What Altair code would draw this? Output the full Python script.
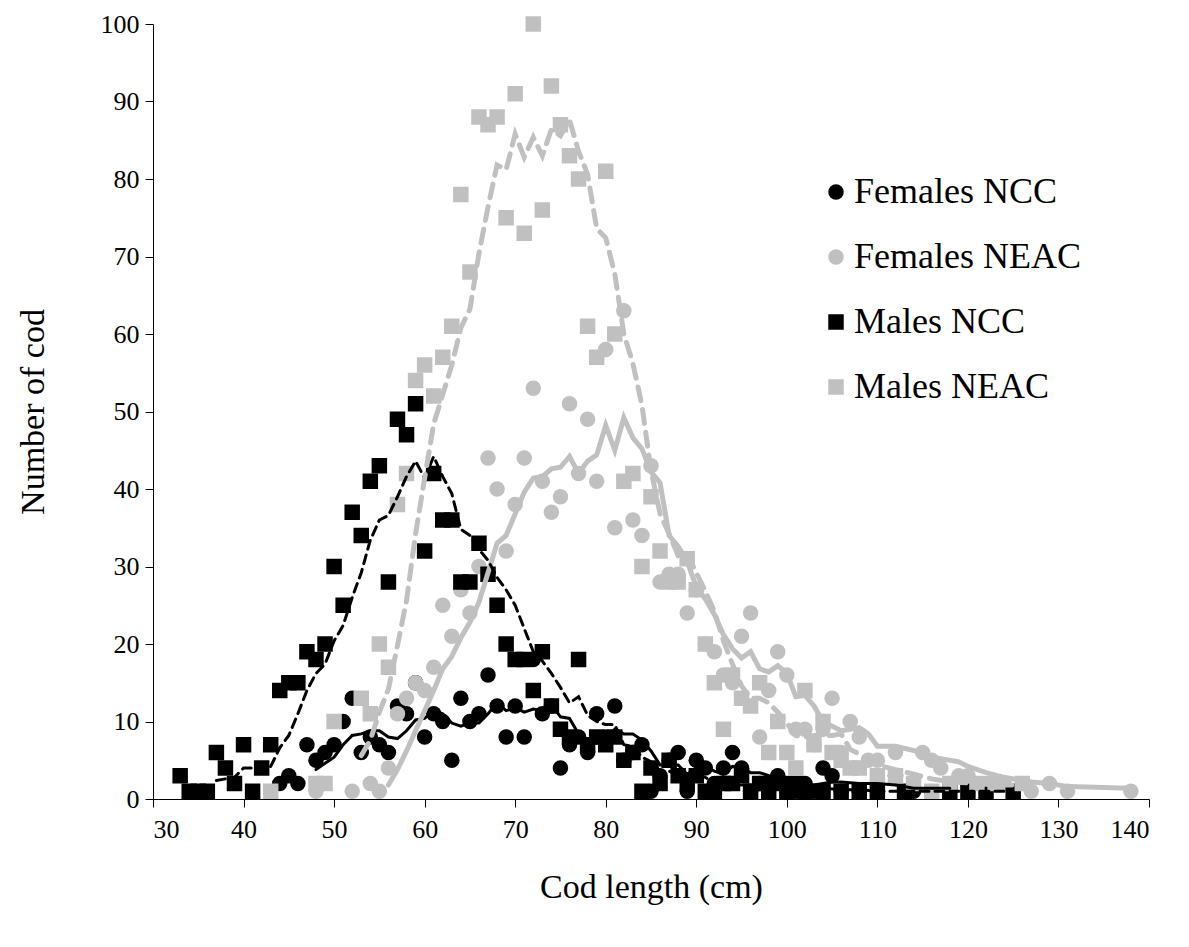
import altair as alt
import pandas as pd

# Females NCC (black circles)
fncc_x = [44, 45, 46, 47, 48, 49, 50, 51, 52, 53, 54, 55, 56, 57, 58, 59, 60, 61, 62, 63, 64, 65, 66, 67, 68, 69, 70, 71, 72, 73, 74, 75, 76, 77, 78, 79, 80, 81, 82, 83, 84, 85, 86, 87, 88, 89, 90, 91, 92, 93, 94, 95, 96, 97, 98, 99, 100, 101, 102, 103, 104, 105, 106, 108, 110, 112, 114, 118]
fncc_y = [2, 3, 2, 7, 5, 6, 7, 10, 13, 6, 8, 7, 6, 12, 11, 15, 8, 11, 10, 5, 13, 10, 11, 16, 12, 8, 12, 8, 18, 11, 12, 4, 7, 8, 6, 11, 8, 12, 5, 6, 7, 1, 3, 5, 6, 1, 5, 4, 2, 4, 6, 4, 1, 2, 2, 3, 2, 1, 2, 1, 4, 3, 1, 1, 1, 3, 1, 1]

# Females NEAC (grey circles)
fneac_x = [48, 52, 54, 55, 56, 57, 58, 59, 60, 61, 62, 63, 64, 65, 66, 67, 68, 69, 70, 71, 72, 73, 74, 75, 76, 77, 78, 79, 80, 81, 82, 83, 84, 85, 86, 87, 88, 89, 90, 91, 92, 93, 94, 95, 96, 97, 98, 99, 100, 101, 102, 103, 104, 105, 106, 107, 108, 109, 110, 112, 115, 116, 117, 119, 120, 122, 124, 127, 129, 131, 138]
fneac_y = [1, 1, 2, 1, 4, 11, 13, 15, 14, 17, 25, 21, 27, 24, 30, 44, 40, 32, 38, 44, 53, 41, 37, 39, 51, 42, 49, 41, 58, 35, 63, 36, 34, 43, 28, 29, 29, 24, 27, 20, 19, 16, 15, 21, 24, 8, 14, 19, 16, 9, 9, 7, 9, 13, 6, 10, 8, 5, 5, 6, 6, 5, 4, 3, 3, 2, 2, 1, 2, 1, 1]

# Males NCC (black squares)
mncc_x = [33, 34, 35, 36, 37, 38, 39, 40, 41, 42, 43, 44, 45, 46, 47, 48, 49, 50, 51, 52, 53, 54, 55, 56, 57, 58, 59, 60, 61, 62, 63, 64, 65, 66, 67, 68, 69, 70, 71, 72, 73, 74, 75, 76, 77, 78, 79, 80, 81, 82, 83, 84, 85, 86, 87, 88, 89, 90, 91, 92, 93, 94, 95, 96, 97, 98, 99, 100, 101, 102, 104, 106, 108, 110, 113, 118, 120, 122, 125]
mncc_y = [3, 1, 1, 1, 6, 4, 2, 7, 1, 4, 7, 14, 15, 15, 19, 18, 20, 30, 25, 37, 34, 41, 43, 28, 49, 47, 51, 32, 42, 36, 36, 28, 28, 33, 29, 25, 20, 18, 18, 14, 19, 12, 9, 8, 18, 7, 8, 7, 8, 5, 6, 1, 4, 2, 5, 3, 2, 3, 1, 1, 2, 2, 3, 1, 2, 1, 2, 1, 2, 1, 1, 1, 1, 1, 1, 1, 1, 1, 1]

# Males NEAC (grey squares)
mneac_x = [43, 48, 49, 50, 53, 54, 55, 56, 57, 58, 59, 60, 61, 62, 63, 64, 65, 66, 67, 68, 69, 70, 71, 72, 73, 74, 75, 76, 77, 78, 79, 80, 81, 82, 83, 84, 85, 86, 87, 88, 89, 90, 91, 92, 93, 94, 95, 96, 97, 98, 99, 100, 101, 102, 103, 104, 105, 106, 107, 108, 110, 112, 114, 116, 118, 121, 123, 126]
mneac_y = [1, 2, 2, 10, 13, 11, 20, 17, 38, 42, 54, 56, 52, 57, 61, 78, 68, 88, 87, 88, 75, 91, 73, 100, 76, 92, 87, 83, 80, 61, 57, 81, 60, 41, 42, 30, 39, 32, 28, 28, 31, 27, 20, 15, 9, 16, 13, 12, 15, 6, 10, 6, 4, 14, 7, 10, 6, 5, 4, 4, 3, 3, 2, 1, 2, 2, 2, 2]

series_names = ["Females NCC", "Females NEAC", "Males NCC", "Males NEAC"]
series_colors = ["#000000", "#c0c0c0", "#000000", "#c0c0c0"]
series_shapes = ["circle", "circle", "square", "square"]

frames = []
for name, xs, ys in zip(series_names,
                        [fncc_x, fneac_x, mncc_x, mneac_x],
                        [fncc_y, fneac_y, mncc_y, mneac_y]):
    frames.append(pd.DataFrame({"length": xs, "count": ys, "series": name}))
df = pd.concat(frames, ignore_index=True)

FONT = "Liberation Serif"
PERIOD = 5  # moving-average trendline period

xscale = alt.Scale(domain=[30, 140], nice=False)
yscale = alt.Scale(domain=[0, 100], nice=False)

base = alt.Chart(df)

points = base.mark_point(filled=True, opacity=1, strokeWidth=0).encode(
    x=alt.X("length:Q", scale=xscale,
            axis=alt.Axis(title="Cod length (cm)", values=list(range(30, 141, 10)),
                          grid=False, tickSize=8, labelPadding=9, titlePadding=28)),
    y=alt.Y("count:Q", scale=yscale,
            axis=alt.Axis(title="Number of cod", values=list(range(0, 101, 10)),
                          grid=False, tickSize=8, labelPadding=6, titlePadding=50)),
    color=alt.Color("series:N", scale=alt.Scale(domain=series_names, range=series_colors),
                    legend=alt.Legend(title=None, orient="none", legendX=665, legendY=150,
                                      labelFont=FONT, labelFontSize=36, labelColor="#000000",
                                      rowPadding=29, symbolSize=130, symbolStrokeWidth=0,
                                      labelOffset=0, labelLimit=400)),
    shape=alt.Shape("series:N", scale=alt.Scale(domain=series_names, range=series_shapes),
                    legend=None),
    size=alt.Size("series:N", scale=alt.Scale(domain=series_names, range=[240, 240, 160, 160]),
                  legend=None),
)

line_styles = {
    "Females NCC": dict(color="#000000", strokeWidth=3),
    "Females NEAC": dict(color="#c0c0c0", strokeWidth=5),
    "Males NCC": dict(color="#000000", strokeWidth=3, strokeDash=[9, 6]),
    "Males NEAC": dict(color="#c0c0c0", strokeWidth=5, strokeDash=[14, 9]),
}

lines = []
for name in series_names:
    ln = base.transform_filter(
        alt.datum.series == name
    ).transform_window(
        ma="mean(count)", n="count()", frame=[-(PERIOD - 1), 0], sort=[{"field": "length"}]
    ).transform_filter(
        alt.datum.n == PERIOD
    ).mark_line(strokeCap="round", **line_styles[name]).encode(
        x=alt.X("length:Q", scale=xscale),
        y=alt.Y("ma:Q", scale=yscale),
    )
    lines.append(ln)

chart = alt.layer(points, *lines).properties(
    width=996, height=775,
    padding={"left": 145, "top": 16, "right": 20, "bottom": 140},
    autosize=alt.AutoSizeParams(type="none"),
).configure_view(stroke=None).configure_axis(
    labelFont=FONT, labelFontSize=26, labelColor="#000000",
    titleFont=FONT, titleFontSize=34, titleFontWeight="normal", titleColor="#000000",
    domainColor="#000000", tickColor="#000000", domainWidth=1, tickWidth=1,
)

chart.save("out.html", embed_options={"renderer": "svg", "actions": False})
